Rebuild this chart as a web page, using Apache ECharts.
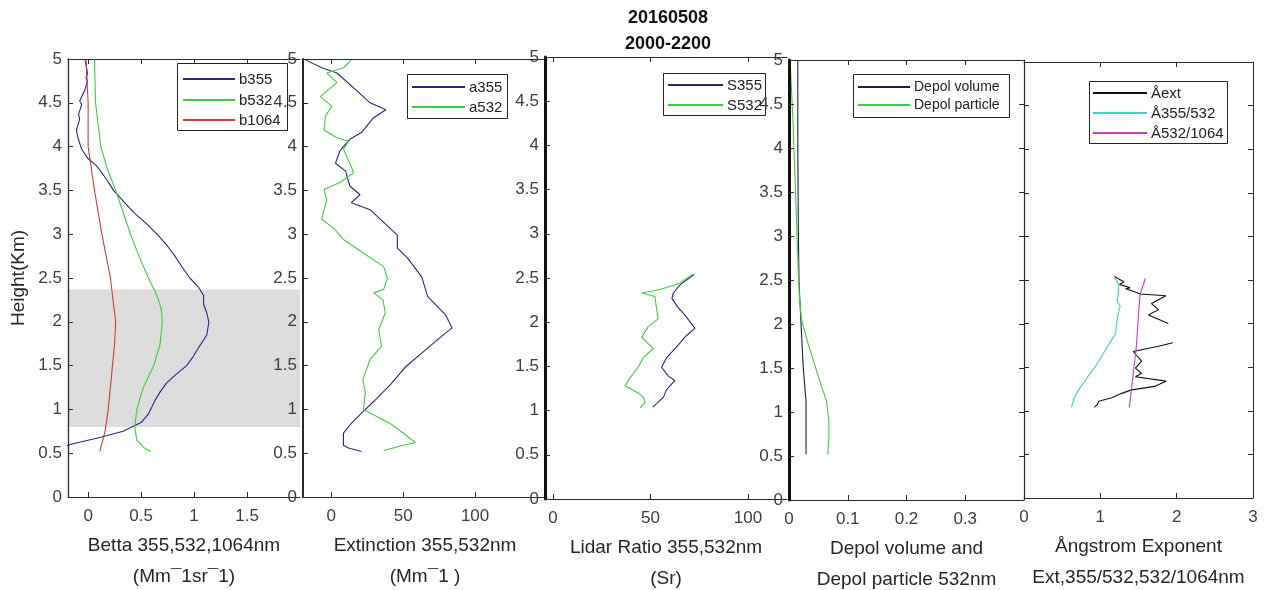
<!DOCTYPE html>
<html><head><meta charset="utf-8">
<script src="https://cdn.jsdelivr.net/npm/echarts@6/dist/echarts.min.js"></script>
<style>html,body{margin:0;padding:0;background:#fff}#c{width:1266px;height:590px}</style>
</head><body><div id="c"></div>
<script>
// ---------------- data ----------------
const titleLines = ['20160508', '2000-2200'];
const heightName = 'Height(Km)';
const aerosolLayer = [0.8, 2.37];

// Panel 1: backscatter (Mm-1 sr-1)
const b355H = [5.0,4.84,4.78,4.75,4.65,4.52,4.48,4.37,4.31,4.19,4.12,4.04,3.97,3.87,3.78,3.65,3.5,3.38,3.25,3.12,3.0,2.88,2.75,2.62,2.5,2.4,2.3,2.2,2.1,2.0,1.85,1.7,1.6,1.5,1.4,1.3,1.2,1.1,0.95,0.85,0.75,0.68,0.6,0.55];
const b355V = [-0.03,-0.006,-0.02,-0.006,-0.03,-0.08,-0.06,-0.09,-0.08,-0.11,-0.10,-0.08,-0.06,-0.006,0.08,0.16,0.24,0.33,0.43,0.55,0.65,0.74,0.82,0.89,0.96,1.04,1.09,1.09,1.12,1.14,1.12,1.04,0.99,0.93,0.83,0.74,0.68,0.63,0.57,0.50,0.33,0.11,-0.17,-0.26];
const b532H = [5.0,4.5,4.2,4.0,3.75,3.5,3.25,3.0,2.75,2.5,2.3,2.15,2.0,1.75,1.5,1.25,1.0,0.8,0.65,0.56,0.52];
const b532V = [0.06,0.07,0.10,0.12,0.18,0.26,0.33,0.40,0.48,0.57,0.65,0.69,0.70,0.68,0.62,0.52,0.46,0.44,0.46,0.53,0.59];
const b1064H = [5.0,4.5,4.0,3.75,3.5,3.0,2.5,2.0,1.75,1.5,1.0,0.75,0.52];
const b1064V = [-0.02,0.0,0.0,0.03,0.06,0.13,0.21,0.26,0.25,0.23,0.19,0.16,0.11];

// Panel 2: extinction (Mm-1)
const a355H = [4.99,4.9,4.84,4.65,4.5,4.42,4.33,4.16,4.08,3.95,3.81,3.72,3.55,3.45,3.36,3.28,2.99,2.84,2.73,2.51,2.29,2.08,1.93,1.85,1.70,1.49,1.28,1.09,0.94,0.84,0.73,0.59,0.56,0.52];
const a355V = [-18,-6.5,4,17,27,38,29.5,21,12.7,6,3,10,13,20,14,27,46,46,53,63,67,79.5,84,78,67,52,41,29.5,20,14,8.5,8.5,12,21];
const a532H = [4.99,4.90,4.84,4.73,4.57,4.46,4.35,4.19,4.10,4.06,3.97,3.77,3.70,3.59,3.51,3.39,3.28,3.17,3.07,2.94,2.80,2.63,2.50,2.37,2.33,2.25,2.10,1.91,1.72,1.57,1.34,1.19,1.00,0.96,0.84,0.73,0.62,0.59,0.53];
const a532V = [14,8.5,-3,4,-7.5,0.5,-4,-5,4,12,8.5,14,15.5,6,-5,-3,-5,-6.5,1.6,8.5,21,36.5,39,36.5,29.5,36,37.6,33,35,27,22,23.7,22.5,27,41,50,58.6,50,36.5];

// Panel 3: lidar ratio (sr)
const s355H = [2.54,2.42,2.33,2.27,2.17,2.08,1.93,1.85,1.72,1.60,1.49,1.39,1.34,1.24,1.15,1.04];
const s355V = [72.3,65,61.7,61,64,67.7,72.8,68.5,63.4,58.3,55.7,59.1,62.5,58.3,56.6,51.1];
const s532H = [2.54,2.44,2.37,2.33,2.29,2.14,2.04,1.95,1.83,1.70,1.60,1.49,1.37,1.28,1.20,1.15,1.09,1.03];
const s532V = [71.6,65,54.9,45.5,52.3,53.2,54,48.9,45.5,51.4,46.3,43.7,39.5,36.9,43.7,46.3,47.2,44.6];

// Panel 4: depolarization
const dvH = [5.0,4.0,3.0,2.48,2.06,1.53,1.12,0.52];
const dvV = [0.015,0.015,0.016,0.017,0.020,0.024,0.029,0.029];
const dpH = [5.0,4.84,4.27,3.32,2.56,2.29,2.06,1.83,1.53,1.30,1.12,0.89,0.70,0.52];
const dpV = [0.002,0.003,0.007,0.012,0.016,0.018,0.021,0.030,0.044,0.055,0.064,0.068,0.068,0.066];

// Panel 5: Angstrom exponents (null = gap)
const aextH = [2.54,2.48,2.45,2.41,2.40,2.37,2.34,2.32,2.23,2.16,2.10,2.00,null,1.78,1.74,1.68,1.57,1.49,1.43,1.39,1.34,1.28,1.24,1.20,1.15,1.11,1.07,1.04];
const aextV = [1.18,1.31,1.25,1.39,1.33,1.43,1.52,1.86,1.67,1.76,1.63,1.89,null,1.95,1.76,1.43,1.54,1.46,1.54,1.46,1.86,1.71,1.41,1.28,1.15,0.98,0.96,0.92];
const ae355H = [2.54,2.45,2.37,2.26,2.20,2.10,1.98,1.88,1.79,1.70,1.60,1.50,1.41,1.33,1.26,1.15,1.04];
const ae355V = [1.18,1.24,1.24,1.22,1.26,1.23,1.21,1.20,1.13,1.07,1.00,0.93,0.85,0.79,0.73,0.66,0.62];
const ae532H = [2.52,2.33,2.10,1.72,1.34,1.04];
const ae532V = [1.59,1.52,1.50,1.47,1.42,1.38];

// axis tick labels
const heightTicks = {min: 0, max: 5, step: 0.5};
const xTicks = [[0,0.5,1,1.5],[0,50,100],[0,50,100],[0,0.1,0.2,0.3],[0,1,2,3]];
const xRanges = [[-0.19,2.0],[-19.6,150],[-4.1,120],[0,0.4],[0,3]];
const xNames = [
  'Betta 355,532,1064nm\n(Mm\u00AF1sr\u00AF1)',
  'Extinction 355,532nm\n(Mm\u00AF1 )',
  'Lidar Ratio 355,532nm\n(Sr)',
  'Depol volume and\nDepol particle 532nm',
  '\u00C5ngstrom Exponent\nExt,355/532,532/1064nm'
];
const seriesNames = [
  ['b355','b532','b1064'],
  ['a355','a532'],
  ['S355','S532'],
  ['Depol volume','Depol particle'],
  ['\u00C5ext','\u00C5355/532','\u00C5532/1064']
];
const seriesData = [
  [[b355H,b355V],[b532H,b532V],[b1064H,b1064V]],
  [[a355H,a355V],[a532H,a532V]],
  [[s355H,s355V],[s532H,s532V]],
  [[dvH,dvV],[dpH,dpV]],
  [[aextH,aextV],[ae355H,ae355V],[ae532H,ae532V]]
];

// ---------------- styling / layout ----------------
const FONT = "'Liberation Sans', Arial, sans-serif";
const colors = [
  ['#27277f','#3fcc3f','#cc3c3c'],
  ['#27277f','#3fcc3f'],
  ['#27277f','#3fcc3f'],
  ['#1c1c5c','#3fcc3f'],
  ['#111111','#3fcfcf','#c83cc8']
];
const grids = [
  {left: 68,  top: 59, width: 232, height: 438},
  {left: 303, top: 59, width: 244, height: 438},
  {left: 545, top: 57, width: 242, height: 442},
  {left: 789, top: 60, width: 235, height: 440},
  {left: 1024, top: 62, width: 229, height: 436}
];
const leftBorderW = [1.3, 2, 3, 3, 1.2];
// legend boxes: box position/size, first row offset, row step, line length, font size
const legendBoxes = [
  {x: 177, y: 63, w: 110, h: 67, row0: 16, step: 20.5, lineX: 6, lineLen: 52, fontSize: 15},
  {x: 407, y: 74, w: 100, h: 44, row0: 13, step: 20, lineX: 5, lineLen: 53, fontSize: 15},
  {x: 663, y: 73, w: 102, h: 42, row0: 12, step: 20, lineX: 5, lineLen: 55, fontSize: 15},
  {x: 853, y: 74, w: 156, h: 43, row0: 13, step: 18, lineX: 5, lineLen: 52, fontSize: 14},
  {x: 1089, y: 81, w: 138, h: 62, row0: 12, step: 20, lineX: 4, lineLen: 54, fontSize: 15}
];
const AX = '#2a2a2a', LBL = '#3d3d3d';

function toPairs(H, V) {
  return H.map((h, i) => (h === null || V[i] === null) ? ['-', '-'] : [V[i], h]);
}

const option = {
  backgroundColor: '#fff',
  animation: false,
  title: {
    text: titleLines.join('\n'), left: 663, top: 0, textAlign: 'center',
    textStyle: {fontSize: 18, fontWeight: 'bold', color: '#111', lineHeight: 26, fontFamily: FONT}
  },
  grid: grids.map(g => Object.assign({containLabel: false, outerBoundsMode: 'none'}, g)),
  xAxis: [], yAxis: [], series: [], graphic: {elements: []}
};

grids.forEach((g, i) => {
  option.xAxis.push({
    gridIndex: i, type: 'value', position: 'bottom', min: xRanges[i][0], max: xRanges[i][1],
    axisLine: {show: true, onZero: false, lineStyle: {color: AX, width: 1}},
    axisTick: {show: true, inside: true, length: 5, customValues: xTicks[i], lineStyle: {color: AX}},
    axisLabel: {customValues: xTicks[i], fontSize: 17, color: LBL, margin: 11, fontFamily: FONT},
    splitLine: {show: false},
    name: xNames[i], nameLocation: 'middle', nameGap: 32,
    nameTextStyle: {fontSize: 19, color: '#262626', lineHeight: 31, fontFamily: FONT}
  });
  option.xAxis.push({
    gridIndex: i, type: 'value', position: 'top', min: xRanges[i][0], max: xRanges[i][1],
    axisLine: {show: true, onZero: false, lineStyle: {color: AX, width: 1}},
    axisTick: {show: true, inside: true, length: 5, customValues: xTicks[i], lineStyle: {color: AX}},
    axisLabel: {show: false}, splitLine: {show: false}
  });
  option.yAxis.push(Object.assign({
    gridIndex: i, type: 'value', position: 'left', min: heightTicks.min, max: heightTicks.max, interval: heightTicks.step,
    axisLine: {show: true, onZero: false, lineStyle: {color: i >= 2 && i <= 3 ? '#111' : AX, width: leftBorderW[i]}},
    axisTick: {show: true, inside: true, length: 5, lineStyle: {color: AX}},
    axisLabel: {show: i < 4, fontSize: 17, color: LBL, margin: 6, fontFamily: FONT},
    splitLine: {show: false}, z: 6
  }, i === 0 ? {
    name: heightName, nameLocation: 'middle', nameGap: 40, nameRotate: 90,
    nameTextStyle: {fontSize: 19, color: '#262626', fontFamily: FONT}
  } : {}));
});
[3, 4].forEach(i => {
  option.yAxis.push({
    gridIndex: i, type: 'value', position: 'right', min: heightTicks.min, max: heightTicks.max, interval: heightTicks.step,
    axisLine: {show: true, onZero: false, lineStyle: {color: AX, width: 1}},
    axisTick: {show: true, inside: true, length: 5, lineStyle: {color: AX}},
    axisLabel: {show: false}, splitLine: {show: false}
  });
});

seriesData.forEach((panel, i) => {
  panel.forEach((hv, k) => {
    const s = {
      type: 'line', name: seriesNames[i][k], xAxisIndex: i * 2, yAxisIndex: i,
      data: toPairs(hv[0], hv[1]), symbol: 'none', showSymbol: false, connectNulls: false,
      color: colors[i][k], itemStyle: {color: colors[i][k]},
      lineStyle: {width: 1.1, color: colors[i][k]}, z: 3
    };
    if (i === 0 && k === 0) {
      s.markArea = {
        silent: true, itemStyle: {color: '#dcdcdc', opacity: 1},
        data: [[{yAxis: aerosolLayer[0]}, {yAxis: aerosolLayer[1]}]]
      };
    }
    option.series.push(s);
  });
  // legend box drawn as graphic group (MATLAB-style boxed legend)
  const lb = legendBoxes[i];
  const children = [{
    type: 'rect', shape: {x: 0.5, y: 0.5, width: lb.w, height: lb.h},
    style: {fill: '#fff', stroke: '#222', lineWidth: 1}
  }];
  seriesNames[i].forEach((n, k) => {
    const ry = Math.round(lb.row0 + k * lb.step);
    children.push({
      type: 'line', shape: {x1: lb.lineX, y1: ry, x2: lb.lineX + lb.lineLen, y2: ry},
      style: {stroke: colors[i][k], lineWidth: 1.8}
    });
    children.push({
      type: 'text', x: lb.lineX + lb.lineLen + 4, y: ry + 0.5,
      style: {text: n, fontSize: lb.fontSize, fontFamily: FONT, fill: '#222', verticalAlign: 'middle', align: 'left'}
    });
  });
  option.graphic.elements.push({type: 'group', x: lb.x, y: lb.y, z: 4, silent: true, children: children});
});

const chart = echarts.init(document.getElementById('c'), null, {renderer: 'canvas'});
chart.setOption(option);
</script>
</body></html>
